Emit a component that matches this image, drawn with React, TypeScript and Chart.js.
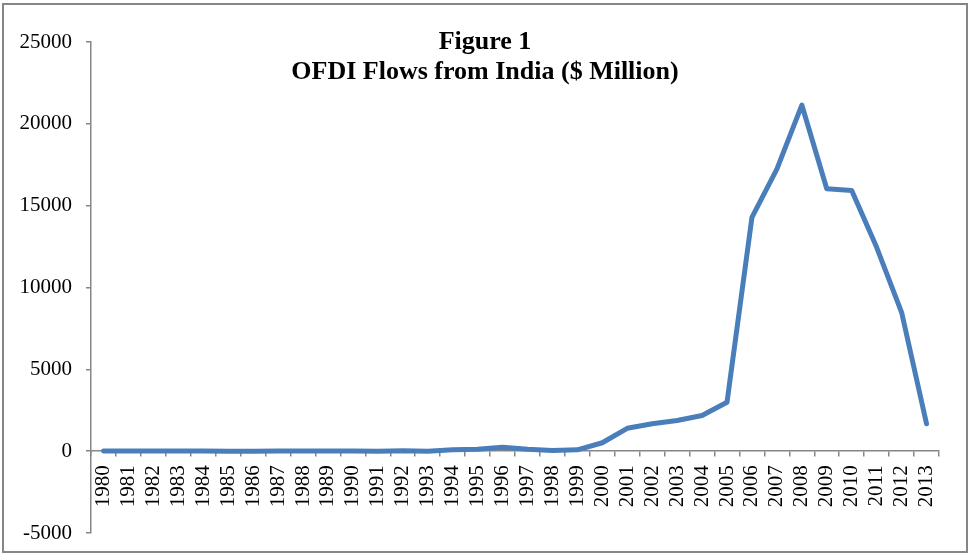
import React, { useEffect, useRef } from "react";
import { Chart, registerables } from "chart.js";

Chart.register(...registerables);

const years: string[] = [
  "1980", "1981", "1982", "1983", "1984", "1985", "1986", "1987", "1988", "1989",
  "1990", "1991", "1992", "1993", "1994", "1995", "1996", "1997", "1998", "1999",
  "2000", "2001", "2002", "2003", "2004", "2005", "2006", "2007", "2008", "2009",
  "2010", "2011", "2012", "2013",
];

const ofdiFlows: number[] = [
  4, 5, 6, 4, 4, 2, 2, 5, 10, 9,
  6, -11, 24, 0, 83, 117, 239, 113, 48, 79,
  514, 1397, 1678, 1876, 2175, 2985, 14285, 17234, 21147, 16031,
  15933, 12456, 8486, 1679,
];

const titleLines: string[] = ["Figure 1", "OFDI Flows from India ($ Million)"];

const AXIS_GRAY = "#868686";
const FONT_FAMILY = '"Liberation Serif", "Times New Roman", serif';

const decorPlugin = {
  id: "decor",
  beforeDraw(chart: any) {
    const ctx = chart.ctx;
    ctx.save();
    ctx.fillStyle = "#ffffff";
    ctx.fillRect(0, 0, chart.width, chart.height);
    ctx.strokeStyle = AXIS_GRAY;
    ctx.lineWidth = 2;
    ctx.strokeRect(3, 4, 964, 548);
    ctx.restore();
  },
  afterDraw(chart: any) {
    const ctx = chart.ctx;
    ctx.save();
    ctx.fillStyle = "#000000";
    ctx.font = `bold 26px ${FONT_FAMILY}`;
    ctx.textAlign = "center";
    ctx.textBaseline = "alphabetic";
    ctx.fillText(titleLines[0], 485, 49);
    ctx.fillText(titleLines[1], 485, 79);
    ctx.restore();
  },
};

export default function App() {
  const canvasRef = useRef<HTMLCanvasElement | null>(null);

  useEffect(() => {
    if (!canvasRef.current) return;
    const chart = new Chart(canvasRef.current, {
      type: "line",
      data: {
        labels: years,
        datasets: [
          {
            label: "OFDI Flows",
            data: ofdiFlows,
            borderColor: "#4a7ebb",
            backgroundColor: "#4a7ebb",
            borderWidth: 5,
            pointRadius: 0,
            pointHoverRadius: 0,
            tension: 0,
            borderCapStyle: "round",
            borderJoinStyle: "round",
            fill: false,
          },
        ],
      },
      options: {
        responsive: false,
        animation: false,
        layout: { padding: { left: 0, right: 31, top: 42, bottom: 21 } },
        plugins: {
          legend: { display: false },
          title: { display: false },
          tooltip: { enabled: false },
        },
        scales: {
          x: {
            type: "category",
            position: { y: 0 } as any,
            offset: true,
            grid: {
              offset: true,
              drawOnChartArea: false,
              drawTicks: true,
              tickLength: 5,
              color: AXIS_GRAY,
              lineWidth: 1.5,
            },
            border: { color: AXIS_GRAY, width: 1.5 },
            ticks: {
              autoSkip: false,
              minRotation: 90,
              maxRotation: 90,
              padding: 9,
              color: "#000000",
              font: { family: FONT_FAMILY, size: 21 },
            },
          },
          y: {
            min: -5000,
            max: 25000,
            grid: {
              drawOnChartArea: false,
              drawTicks: true,
              tickLength: 5,
              color: AXIS_GRAY,
              lineWidth: 1.5,
            },
            border: { color: AXIS_GRAY, width: 1.5 },
            ticks: {
              stepSize: 5000,
              padding: 14,
              color: "#000000",
              font: { family: FONT_FAMILY, size: 21 },
              callback: (v: any) => String(v),
            },
            afterFit: (scale: any) => {
              scale.width = 91;
              scale.paddingTop = 0;
              scale.paddingBottom = 0;
            },
          },
        },
      },
      plugins: [decorPlugin],
    });
    return () => chart.destroy();
  }, []);

  return (
    <div style={{ position: "absolute", left: 0, top: 0, width: 970, height: 554 }}>
      <canvas ref={canvasRef} width={970} height={554} style={{ width: 970, height: 554 }} />
    </div>
  );
}
